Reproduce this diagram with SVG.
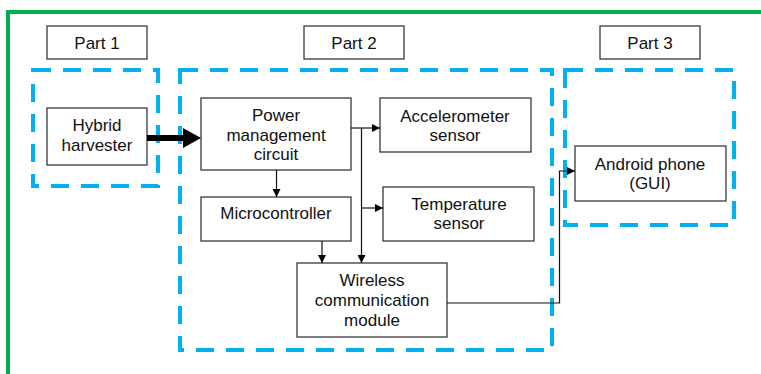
<svg xmlns="http://www.w3.org/2000/svg" width="761" height="374" viewBox="0 0 761 374">
<defs>
<style>
.box{fill:#fff;stroke:#3a3a3a;stroke-width:1.3}
.grp{fill:none;stroke:#00b0f0;stroke-width:4;stroke-dasharray:18 12}
.t{font-family:"Liberation Sans",Arial,sans-serif;font-size:17px;fill:#111;text-anchor:middle}
.c{fill:none;stroke:#111;stroke-width:1.2}
</style>
<marker id="ah" viewBox="0 0 10 10" refX="10" refY="5" markerWidth="8" markerHeight="8" markerUnits="userSpaceOnUse" orient="auto"><path d="M0,0 L10,5 L0,10 z" fill="#000"/></marker>
</defs>
<rect width="761" height="374" fill="#fff"/>
<path d="M8,376 V12 H763" fill="none" stroke="#00b050" stroke-width="4"/>
<g id="groups">
<rect class="grp" x="33" y="70" width="125" height="116"/>
<rect class="grp" x="180" y="70" width="372" height="280"/>
<rect class="grp" x="565" y="70" width="169" height="155"/>
</g>
<g id="part1"><rect class="box" x="47" y="26" width="100" height="33"/><text class="t" x="97" y="49">Part 1</text></g>
<g id="part2"><rect class="box" x="304" y="26" width="100" height="33"/><text class="t" x="354" y="49">Part 2</text></g>
<g id="part3"><rect class="box" x="600" y="26" width="100" height="33"/><text class="t" x="650" y="49">Part 3</text></g>
<g id="harvester"><rect class="box" x="47" y="108" width="100" height="57"/><text class="t" x="97" y="131">Hybrid</text><text class="t" x="97" y="150.5">harvester</text></g>
<g id="pmc"><rect class="box" x="201" y="98" width="150" height="72"/><text class="t" x="276" y="121">Power</text><text class="t" x="276" y="140.5">management</text><text class="t" x="276" y="160">circuit</text></g>
<g id="accel"><rect class="box" x="380" y="98" width="151" height="54"/><text class="t" x="455" y="121.5">Accelerometer</text><text class="t" x="455" y="141">sensor</text></g>
<g id="micro"><rect class="box" x="201" y="197" width="150" height="44"/><text class="t" x="276" y="218.5">Microcontroller</text></g>
<g id="temp"><rect class="box" x="383" y="187" width="151" height="54"/><text class="t" x="459" y="210">Temperature</text><text class="t" x="459" y="229">sensor</text></g>
<g id="wireless"><rect class="box" x="297" y="263" width="150" height="74"/><text class="t" x="372" y="286">Wireless</text><text class="t" x="372" y="306">communication</text><text class="t" x="372" y="326">module</text></g>
<g id="android"><rect class="box" x="575" y="146" width="151" height="55"/><text class="t" x="650" y="169.5">Android phone</text><text class="t" x="650" y="189">(GUI)</text></g>
<g id="connectors">
<path d="M147,138 H184" stroke="#000" stroke-width="6" fill="none"/>
<path d="M183,128 L201,138 L183,148 z" fill="#000"/>
<path class="c" d="M351,128 H380" marker-end="url(#ah)"/>
<path class="c" d="M361.5,128 V263" marker-end="url(#ah)"/>
<path class="c" d="M361.5,208 H383" marker-end="url(#ah)"/>
<path class="c" d="M276.5,170 V197" marker-end="url(#ah)"/>
<path class="c" d="M322,241 V263" marker-end="url(#ah)"/>
<path class="c" d="M447,303 H559.5 V171 H575" marker-end="url(#ah)"/>
</g>
</svg>
